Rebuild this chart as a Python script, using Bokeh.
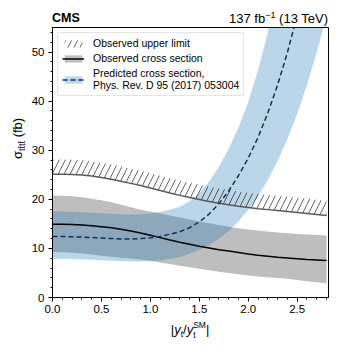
from bokeh.plotting import figure
from bokeh.models import (Range1d, Legend, LegendItem, SingleIntervalTicker,
                          PrintfTickFormatter, Div)
from bokeh.layouts import column, row
from bokeh.embed import file_html
from bokeh.resources import INLINE

# ---------------- data ----------------
kappa = [0.0, 0.1, 0.2, 0.3, 0.4, 0.5, 0.6, 0.7, 0.8, 0.9, 1.0, 1.1, 1.2, 1.3, 1.4,
         1.5, 1.6, 1.7, 1.8, 1.9, 2.0, 2.1, 2.2, 2.3, 2.4, 2.5, 2.6, 2.7, 2.8]

obs_limit = [25.1, 25.1, 25.05, 24.95, 24.75, 24.45, 24.1, 23.7, 23.25, 22.8, 22.3, 21.8,
             21.3, 20.8, 20.35, 19.95, 19.55, 19.2, 18.9, 18.6, 18.35, 18.1, 17.9, 17.7,
             17.5, 17.3, 17.1, 16.9, 16.7]

obs_central = [14.9, 14.9, 14.85, 14.75, 14.6, 14.4, 14.2, 13.9, 13.55, 13.15, 12.7, 12.2,
               11.7, 11.25, 10.85, 10.45, 10.1, 9.75, 9.45, 9.15, 8.85, 8.6, 8.4, 8.2,
               8.05, 7.9, 7.75, 7.65, 7.55]
obs_hi = [20.8, 20.75, 20.6, 20.4, 20.1, 19.8, 19.4, 18.9, 18.4, 17.9, 17.5, 17.1, 16.7,
          16.3, 15.9, 15.5, 15.1, 14.75, 14.4, 14.1, 13.85, 13.65, 13.45, 13.25, 13.1,
          12.95, 12.85, 12.75, 12.65]
obs_lo = [9.25, 9.2, 9.1, 8.95, 8.75, 8.5, 8.3, 8.1, 7.95, 7.75, 7.5, 7.15, 6.8, 6.45,
          6.15, 5.85, 5.55, 5.25, 5.0, 4.75, 4.5, 4.3, 4.1, 3.95, 3.8, 3.55, 3.3, 3.1, 2.9]

kappa_pred_c = kappa[:26]
pred_central = [12.45, 12.43, 12.38, 12.3, 12.21, 12.11, 12.01, 11.94, 11.93, 12.0, 12.15,
                12.45, 12.9, 13.4, 14.2, 15.4, 17.0, 19.1, 21.7, 24.8, 28.4, 32.6, 37.6,
                43.3, 49.9, 57.5]
kappa_pred_up = kappa[:24]
pred_up = [17.55, 17.5, 17.45, 17.35, 17.25, 17.15, 17.05, 16.95, 16.9, 16.95, 17.1, 17.4,
           17.9, 18.5, 19.6, 21.3, 23.6, 26.6, 30.3, 34.6, 39.8, 46.3, 54.0, 62.9]
kappa_pred_lo = kappa
pred_lo = [7.9, 7.89, 7.84, 7.77, 7.69, 7.59, 7.49, 7.41, 7.35, 7.35, 7.4, 7.55, 7.82, 8.22,
           8.9, 9.7, 10.7, 11.95, 13.5, 15.5, 17.85, 20.65, 23.95, 27.8, 32.3, 37.4, 43.3,
           49.9, 57.3]

x_range = (0.0, 2.82)
y_range = (0.0, 55.0)

legend_labels = ["Observed upper limit", "Observed cross section",
                 "Predicted cross section,\nPhys. Rev. D 95 (2017) 053004"]

# ---------------- style ----------------
FONT = "Liberation Sans"
FONT_CSS = "'Liberation Sans', Arial, sans-serif"
HATCH_WIDTH = 3.0

p = figure(frame_width=276, frame_height=270,
           min_border_left=26, min_border_right=12, min_border_top=1, min_border_bottom=20,
           x_range=Range1d(*x_range), y_range=Range1d(*y_range),
           output_backend="svg", toolbar_location=None)
p.background_fill_color = "white"
p.border_fill_color = "white"
p.outline_line_color = "black"
p.outline_line_width = 1
p.grid.visible = False

for ax in (p.xaxis[0], p.yaxis[0]):
    ax.axis_line_color = "black"
    ax.major_tick_line_color = "black"
    ax.minor_tick_line_color = "black"
    ax.major_tick_out = 4
    ax.major_tick_in = 0
    ax.minor_tick_out = 2
    ax.minor_tick_in = 0
    ax.major_label_text_font = FONT
    ax.major_label_text_font_size = "11.5px"
    ax.major_label_text_color = "black"
    ax.axis_label = None

p.xaxis.ticker = SingleIntervalTicker(interval=0.5, num_minor_ticks=5)
p.yaxis.ticker = SingleIntervalTicker(interval=10, num_minor_ticks=5)
p.xaxis.formatter = PrintfTickFormatter(format="%.1f")
p.yaxis.formatter = PrintfTickFormatter(format="%d")
p.xaxis.major_label_standoff = 3
p.yaxis.major_label_standoff = 4

# ---------------- glyphs ----------------
r_gray = p.varea(x=kappa, y1=obs_lo, y2=obs_hi, fill_color="#bebebe", fill_alpha=1.0)

blue_x = kappa_pred_up + kappa_pred_lo[::-1]
blue_y = pred_up + pred_lo[::-1]
r_blue = p.patch(x=blue_x, y=blue_y, fill_color="#1f77b4", fill_alpha=0.3, line_color=None)

hatch_top = [v + HATCH_WIDTH for v in obs_limit]
r_hatch = p.varea(x=kappa, y1=obs_limit, y2=hatch_top, fill_color="white", fill_alpha=0.0,
                  hatch_pattern="/", hatch_color="black", hatch_scale=12, hatch_weight=0.6)
r_limit = p.line(x=kappa, y=obs_limit, line_color="#5a5a5a", line_width=1.5)
r_obs = p.line(x=kappa, y=obs_central, line_color="black", line_width=1.5)
r_dash = p.line(x=kappa_pred_c, y=pred_central, line_color="#15305a", line_width=1.5,
                line_dash="5 3")

legend = Legend(items=[
    LegendItem(label=legend_labels[0], renderers=[r_hatch]),
    LegendItem(label=legend_labels[1], renderers=[r_gray, r_obs]),
    LegendItem(label=legend_labels[2], renderers=[r_blue, r_dash]),
], location="top_left")
legend.label_text_font = FONT
legend.label_text_font_size = "10.5px"
legend.label_text_color = "black"
legend.glyph_width = 22
legend.glyph_height = 9
legend.label_standoff = 9
legend.padding = 4
legend.spacing = 3
legend.margin = 5
legend.border_line_color = "#cccccc"
legend.border_line_width = 1
legend.border_radius = 3
legend.background_fill_alpha = 0.85
p.add_layout(legend)

# ---------------- texts around the frame (HTML) ----------------
header = Div(width=340, height=26, margin=0, text=(
    f'<div style="position:relative;width:340px;height:26px;font-family:{FONT_CSS};color:black">'
    '<span style="position:absolute;left:52px;top:12px;font-size:12.5px;font-weight:bold;'
    'line-height:1;white-space:nowrap">CMS</span>'
    '<span style="position:absolute;right:12px;top:11.7px;font-size:13px;line-height:1;'
    'white-space:nowrap">137 fb<span style="font-size:9px;position:relative;top:-5px">'
    '\u22121</span> (13 TeV)</span></div>'))

ylabel = Div(width=26, height=291, margin=0, text=(
    f'<div style="position:relative;width:26px;height:291px;font-family:{FONT_CSS};color:black">'
    '<span style="position:absolute;left:11px;top:133px;transform-origin:0 0;'
    'transform:rotate(-90deg);font-size:13px;line-height:1;white-space:nowrap">'
    '\u03c3<span style="font-size:9px;position:relative;top:3px">'
    'tt\u0304tt\u0304</span> (fb)</span></div>'))

xlabel = Div(width=340, height=23, margin=0, text=(
    f'<div style="position:relative;width:340px;height:23px;font-family:{FONT_CSS};color:black">'
    '<span style="position:absolute;left:190px;top:3px;transform:translateX(-50%);'
    'font-size:13px;line-height:1;white-space:nowrap">|<i>y</i>'
    '<span style="font-size:8.5px;position:relative;top:3px">t</span>/<i>y</i>'
    '<span style="display:inline-block;vertical-align:-4px;font-size:8.5px;line-height:10px;'
    'text-align:left">SM<br>t</span>|</span></div>'))

layout = column(header, row(ylabel, p, spacing=0), xlabel, spacing=0)

open("out.html", "w").write(file_html(layout, INLINE))
